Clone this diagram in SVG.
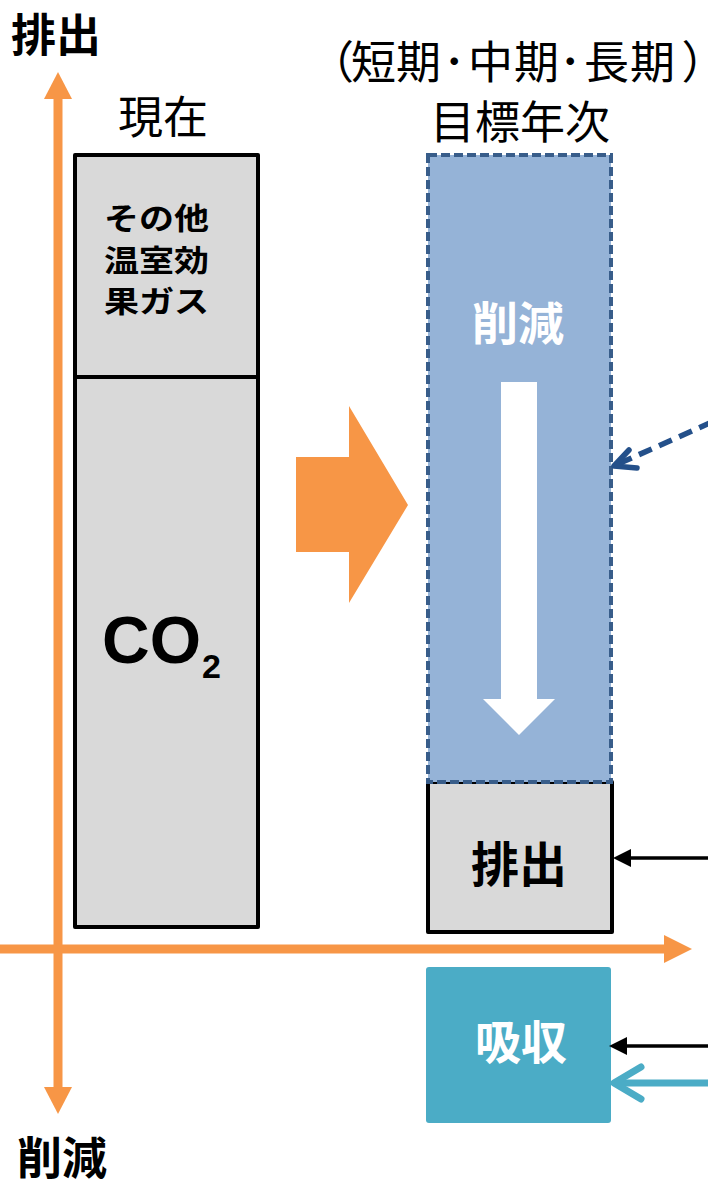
<svg xmlns="http://www.w3.org/2000/svg" width="708" height="1188" viewBox="0 0 708 1188">
  <style>
    .jp { font-family: "Noto Sans CJK JP", "Noto Sans", sans-serif; }
    .b { font-weight: bold; }
    .lbl { fill: #000; font-size: 45px; }
    .white { fill: #ffffff; }
    .axis { stroke: #F79646; stroke-width: 9; fill: none; }
    .axhead { fill: #F79646; }
    .box { fill: #D9D9D9; stroke: #000; stroke-width: 4; stroke-linejoin: round; }
  </style>
  <defs>
    <marker id="blackHead" markerUnits="userSpaceOnUse" viewBox="0 0 18 18" refX="11" refY="9" markerWidth="18" markerHeight="18" orient="auto">
      <path d="M0,0 L18,9 L0,18 z" fill="#000"/>
    </marker>
  </defs>
  <rect width="708" height="1188" fill="#ffffff"/>

  <!-- axes -->
  <g id="axes">
    <line class="axis" x1="58" y1="98" x2="58" y2="1088"/>
    <polygon class="axhead" points="44,99 58,72 72,99"/>
    <polygon class="axhead" points="44,1087 58,1114 72,1087"/>
    <line class="axis" x1="0" y1="949" x2="665" y2="949"/>
    <polygon class="axhead" points="664,935 692,949 664,963"/>
    <text class="jp b lbl" x="56" y="52" font-size="46" text-anchor="middle">排出</text>
    <text class="jp b lbl" x="62" y="1175" font-size="46" text-anchor="middle">削減</text>
  </g>

  <!-- headings -->
  <g id="headings">
    <text class="jp lbl" x="163" y="134" font-size="45" text-anchor="middle">現在</text>
    <text class="jp lbl" font-size="44" y="79" style="font-feature-settings:'palt'" x="330 351 396 443 468 514 559 584 630 683">（短期･中期･長期）</text>
    <text class="jp lbl" x="520" y="139" font-size="46" text-anchor="middle">目標年次</text>
  </g>

  <!-- current emissions bar -->
  <g id="current">
    <rect class="box" x="75" y="155" width="183" height="772"/>
    <line x1="75" y1="377" x2="258" y2="377" stroke="#000" stroke-width="4"/>
    <text class="jp b" font-size="30" fill="#000" x="104" y="229" textLength="105" lengthAdjust="spacingAndGlyphs">その他</text>
    <text class="jp b" font-size="30" fill="#000" x="104" y="271" textLength="105" lengthAdjust="spacingAndGlyphs">温室効</text>
    <text class="jp b" font-size="30" fill="#000" x="104" y="312" textLength="105" lengthAdjust="spacingAndGlyphs">果ガス</text>
    <text font-family="Liberation Sans, Arial, sans-serif" font-weight="bold" font-size="66" fill="#000" x="102" y="663">CO</text>
    <text font-family="Liberation Sans, Arial, sans-serif" font-weight="bold" font-size="34" fill="#000" x="202" y="678">2</text>
  </g>

  <!-- big transition arrow -->
  <g id="transition">
    <polygon points="296,457 349,457 349,406 408,505 349,603 349,552 296,552" fill="#F79646"/>
  </g>

  <!-- remaining emissions box -->
  <g id="emission">
    <rect class="box" x="428" y="782" width="184" height="150"/>
    <text class="jp b" font-size="48" fill="#000" x="519" y="882" text-anchor="middle">排出</text>
  </g>

  <!-- reduction box -->
  <g id="reduction">
    <rect x="428" y="155" width="183" height="627" fill="#95B3D7" stroke="#385D8A" stroke-width="4" stroke-dasharray="9 4"/>
    <text class="jp b white" font-size="46" x="518" y="340" text-anchor="middle">削減</text>
    <polygon points="501,382 537,382 537,699 555,699 519,735 483,699 501,699" fill="#ffffff"/>
  </g>

  <!-- absorption box -->
  <g id="absorption">
    <rect x="426" y="967" width="185" height="156" rx="3" fill="#4BACC6"/>
    <text class="jp b white" font-size="46" x="521" y="1059" text-anchor="middle">吸収</text>
  </g>

  <!-- connectors -->
  <g id="connectors">
    <line x1="708" y1="858" x2="620" y2="858" stroke="#000" stroke-width="3.5" marker-end="url(#blackHead)"/>
    <line x1="708" y1="1046" x2="616" y2="1046" stroke="#000" stroke-width="3.5" marker-end="url(#blackHead)"/>
    <line x1="708" y1="1083" x2="618" y2="1083" stroke="#4BACC6" stroke-width="7" stroke-linecap="round"/>
    <polyline points="641,1067 614,1083 641,1099" fill="none" stroke="#4BACC6" stroke-width="7" stroke-linecap="round" stroke-linejoin="round"/>
    <line x1="712" y1="422" x2="618" y2="464" stroke="#24508A" stroke-width="5.5" stroke-dasharray="14 8"/>
    <polyline points="629,450 614,466 637,468" fill="none" stroke="#24508A" stroke-width="5.5" stroke-linecap="round" stroke-linejoin="round"/>
  </g>
</svg>
